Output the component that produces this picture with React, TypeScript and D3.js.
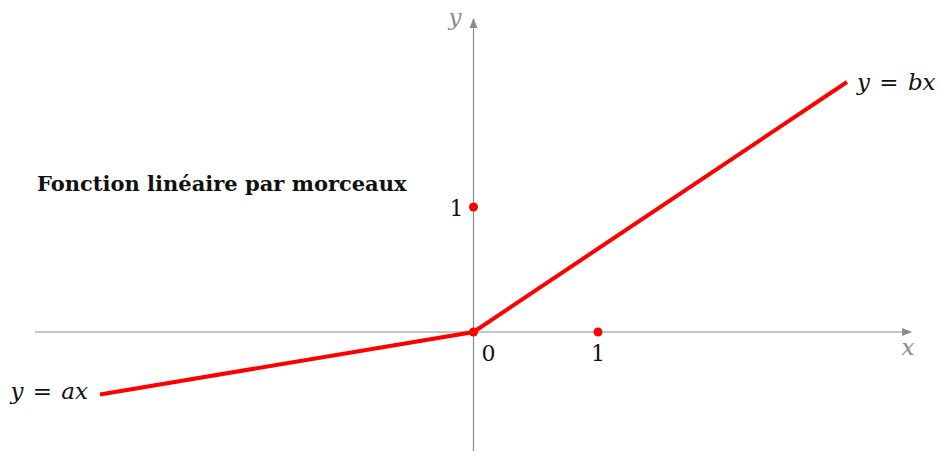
import { useRef, useEffect } from "react";
import * as d3 from "d3";

// piecewise linear: y = ax for x < 0, y = bx for x >= 0
const breakX = [-3, 0, 3];
const slopes = { a: 1 / 6, b: 2 / 3 };
const markedPoints: [number, number][] = [
  [0, 1],
  [1, 0],
  [0, 0],
];
const xTickLabels = ["0", "1"];
const yTickLabels = ["1"];
const titleText = "Fonction linéaire par morceaux";

const W = 939;
const H = 452;
const SERIF = "'DejaVu Serif', 'Liberation Serif', serif";

export default function App() {
  const svgRef = useRef<SVGSVGElement>(null);

  useEffect(() => {
    const svg = d3.select(svgRef.current);
    svg.selectAll("*").remove();

    const x = d3.scaleLinear().domain([-3, 3]).range([100, 847]);
    const y = d3.scaleLinear().domain([0, 1]).range([332, 207]);
    const axisColor = "#8c8c8c";

    const defs = svg.append("defs");
    defs
      .append("marker")
      .attr("id", "arr")
      .attr("viewBox", "0 0 10 10")
      .attr("refX", 9)
      .attr("refY", 5)
      .attr("markerWidth", 10)
      .attr("markerHeight", 10)
      .attr("markerUnits", "userSpaceOnUse")
      .attr("orient", "auto")
      .append("path")
      .attr("d", "M0,1 L10,5 L0,9 Z")
      .attr("fill", axisColor);

    // axes
    svg
      .append("line")
      .attr("x1", 35)
      .attr("x2", 911)
      .attr("y1", y(0))
      .attr("y2", y(0))
      .attr("stroke", axisColor)
      .attr("stroke-width", 1.2)
      .attr("marker-end", "url(#arr)");
    svg
      .append("line")
      .attr("x1", x(0))
      .attr("x2", x(0))
      .attr("y1", 451)
      .attr("y2", 19)
      .attr("stroke", axisColor)
      .attr("stroke-width", 1.2)
      .attr("marker-end", "url(#arr)");

    svg
      .append("text")
      .attr("x", 908)
      .attr("y", 355)
      .attr("text-anchor", "middle")
      .attr("font-family", SERIF)
      .attr("font-style", "italic")
      .attr("font-size", 23)
      .attr("fill", axisColor)
      .text("x");
    svg
      .append("text")
      .attr("x", 455)
      .attr("y", 25)
      .attr("text-anchor", "middle")
      .attr("font-family", SERIF)
      .attr("font-style", "italic")
      .attr("font-size", 23)
      .attr("fill", axisColor)
      .text("y");

    // function line
    const f = (v: number) => (v < 0 ? slopes.a * v : slopes.b * v);
    const line = d3
      .line<number>()
      .x((d) => x(d))
      .y((d) => y(f(d)));
    svg
      .append("path")
      .attr("d", line(breakX))
      .attr("fill", "none")
      .attr("stroke", "#ff0000")
      .attr("stroke-width", 4);

    svg
      .selectAll("circle.pt")
      .data(markedPoints)
      .join("circle")
      .attr("class", "pt")
      .attr("cx", (d) => x(d[0]))
      .attr("cy", (d) => y(d[1]))
      .attr("r", 4.5)
      .attr("fill", "#ff0000");

    // tick labels
    xTickLabels.forEach((t) => {
      const v = +t;
      svg
        .append("text")
        .attr("x", v === 0 ? x(0) + 15 : x(v))
        .attr("y", y(0) + 29)
        .attr("text-anchor", "middle")
        .attr("font-family", SERIF)
        .attr("font-size", 22)
        .attr("fill", "#111")
        .text(t);
    });
    yTickLabels.forEach((t) => {
      svg
        .append("text")
        .attr("x", x(0) - 10)
        .attr("y", y(+t) + 9)
        .attr("text-anchor", "end")
        .attr("font-family", SERIF)
        .attr("font-size", 22)
        .attr("fill", "#111")
        .text(t);
    });

    // line labels
    svg
      .append("text")
      .attr("x", x(3) + 10)
      .attr("y", y(f(3)) + 8)
      .attr("font-family", SERIF)
      .attr("font-style", "italic")
      .attr("font-size", 23)
      .attr("fill", "#111")
      .attr("word-spacing", 2)
      .text("y = bx");
    svg
      .append("text")
      .attr("x", x(-3) - 12)
      .attr("y", y(f(-3)) + 4)
      .attr("text-anchor", "end")
      .attr("font-family", SERIF)
      .attr("font-style", "italic")
      .attr("font-size", 23)
      .attr("fill", "#111")
      .attr("word-spacing", 2)
      .text("y = ax");

    svg
      .append("text")
      .attr("x", 37)
      .attr("y", 191)
      .attr("font-family", SERIF)
      .attr("font-weight", "bold")
      .attr("font-size", 21)
      .attr("fill", "#111")
      .text(titleText);
  }, []);

  return (
    <svg
      ref={svgRef}
      width={W}
      height={H}
      style={{ position: "absolute", left: 0, top: 0, background: "#fff" }}
    />
  );
}
